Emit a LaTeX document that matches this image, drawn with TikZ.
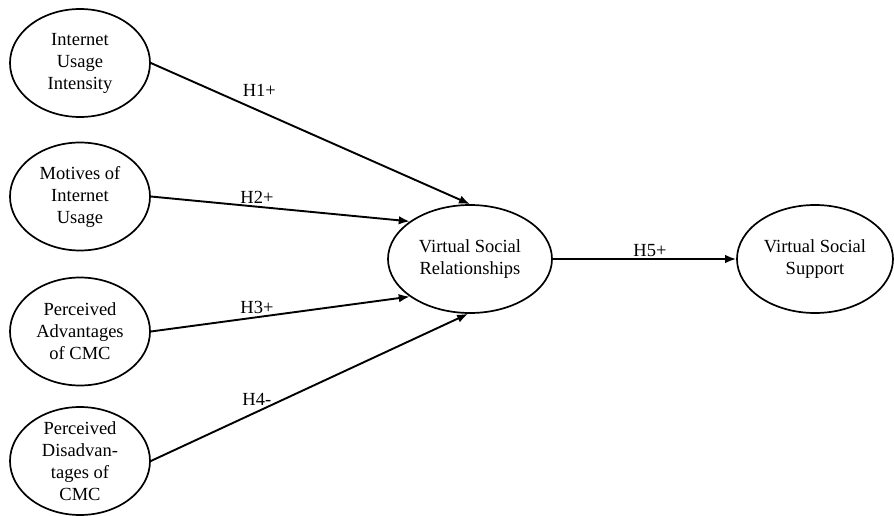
\documentclass[tikz,border=0pt]{standalone}
\usepackage{fontspec}
\setmainfont{Liberation Serif}
\usetikzlibrary{shapes.geometric,arrows.meta}
\begin{document}
\begin{tikzpicture}[x=1pt,y=-1pt,
  lat/.style={ellipse,draw,line width=1.7pt,inner sep=0pt,minimum width=140pt,minimum height=108pt},
  txt/.style={align=center,font=\fontsize{18.5}{22}\selectfont,inner sep=0pt},
  arr/.style={line width=1.9pt,-{Latex[length=11pt,width=8.5pt]}},
  hl/.style={font=\fontsize{18.5}{22}\selectfont,inner sep=0pt}]
\useasboundingbox (0,0) rectangle (894,516);
\node[lat,label={[txt]center:Internet\\Usage\\Intensity}] (a) at (80,63) {};
\node[lat,label={[txt]center:Motives of\\Internet\\Usage}] (b) at (80,196.5) {};
\node[lat,label={[txt]center:Perceived\\Advantages\\of CMC}] (c) at (80,331.5) {};
\node[lat,label={[txt]center:Perceived\\Disadvan-\\tages of\\CMC}] (d) at (80,461) {};
\node[lat,minimum width=164pt,label={[txt]center:Virtual Social\\Relationships}] (v) at (470,259) {};
\node[lat,minimum width=156pt,label={[txt]center:Virtual Social\\Support}] (s) at (815,259) {};
\draw[arr] (a.east) -- node[hl,pos=0.34,above=14pt]{H1+} (v.north);
\draw[arr] (b.east) -- node[hl,pos=0.41,above=2pt]{H2+} (v.148);
\draw[arr] (c.east) -- node[hl,pos=0.41,above=3pt]{H3+} (v.212);
\draw[arr] (d.east) -- node[hl,pos=0.334,above=5pt]{H4-} (v.268);
\draw[arr] (v.east) -- node[hl,pos=0.53,above=1pt]{H5+} (s.west);
\end{tikzpicture}
\end{document}
